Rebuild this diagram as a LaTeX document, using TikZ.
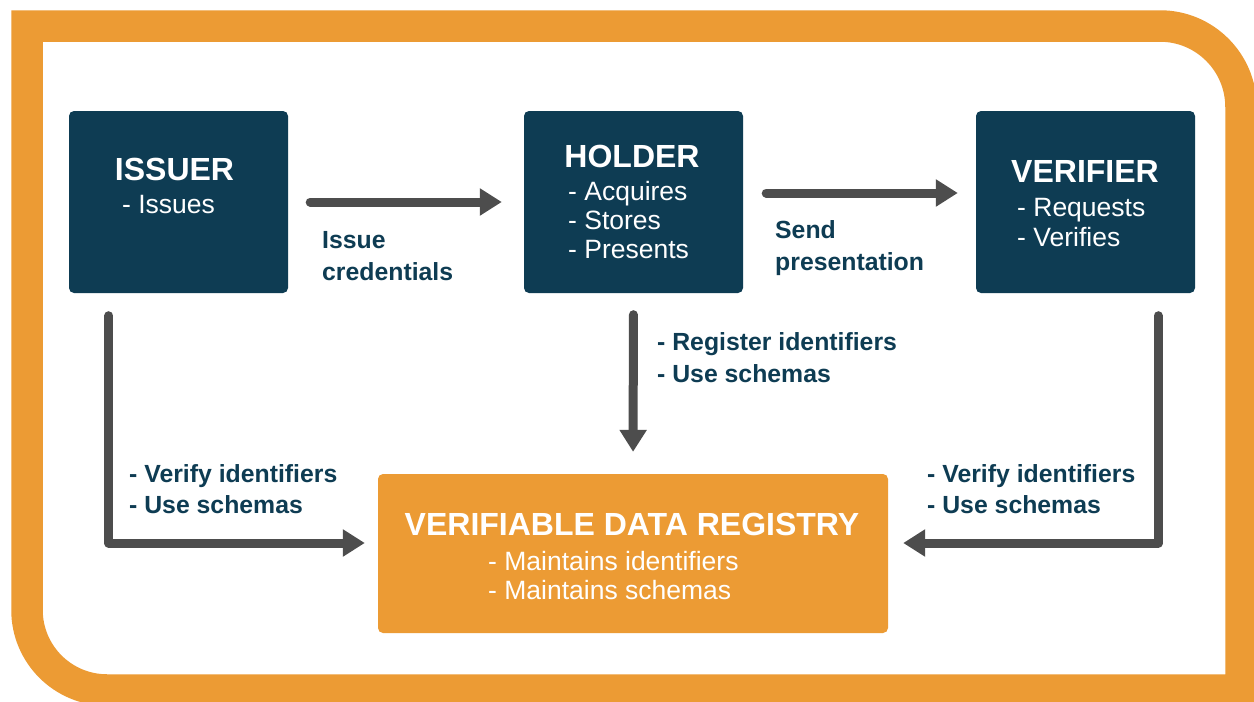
\documentclass[tikz,border=0pt]{standalone}
\usepackage{fontspec}
\setmainfont{Liberation Sans}
\usetikzlibrary{arrows.meta}
\definecolor{navy}{HTML}{0E3C53}
\definecolor{amber}{HTML}{EC9B34}
\definecolor{arrowgray}{HTML}{4D4D4D}
\begin{document}
\begin{tikzpicture}[x=1pt,y=-1pt,
  rolebox/.style={fill=navy, rounded corners=5pt, inner sep=0pt, minimum width=219pt, minimum height=182pt},
  regbox/.style={fill=amber, rounded corners=5pt, inner sep=0pt, minimum width=510pt, minimum height=159pt},
  titletext/.style={font=\fontsize{32}{36}\selectfont\bfseries, text=white, inner sep=0pt, anchor=base},
  itemtext/.style={font=\fontsize{26.5}{30}\selectfont, text=white, inner sep=0pt, anchor=base west},
  labeltext/.style={font=\fontsize{24.8}{30}\selectfont\bfseries, text=navy, inner sep=0pt, anchor=base west},
  conn/.style={draw=arrowgray, line width=9pt, line cap=round, line join=round, -{Triangle[length=22pt,width=26pt]}},
  frame/.style={draw=amber, line width=31.5pt, line join=miter}]
\useasboundingbox (0,0) rectangle (1254,702);
\fill[white] (0,0) rectangle (1254,702);
% frame
\draw[frame] (27,610) -- (27,26) -- (1160,26) arc[start angle=-90,end angle=0,radius=81]
  -- (1241,690) -- (107,690) arc[start angle=90,end angle=180,radius=80] -- cycle;
% boxes
\node[rolebox] (issuer) at (178.5,202) {};
\node[rolebox] (holder) at (633.5,202) {};
\node[rolebox] (verifier) at (1085.5,202) {};
\node[regbox] (vdr) at (633,553.5) {};
% box texts
\node[titletext] (issuerT) at (174.5,180) {ISSUER};
\node[itemtext] (issuerA) at (122,213) {- Issues};
\node[titletext] (holderT) at (632,167) {HOLDER};
\node[itemtext] (holderA) at (568,200) {- Acquires};
\node[itemtext] (holderB) at (568,229) {- Stores};
\node[itemtext] (holderC) at (568,258) {- Presents};
\node[titletext] (verifierT) at (1085,182) {VERIFIER};
\node[itemtext] (verifierA) at (1017,216) {- Requests};
\node[itemtext] (verifierB) at (1017,246) {- Verifies};
\node[titletext] (vdrT) at (632,535) {VERIFIABLE DATA REGISTRY};
\node[itemtext] (vdrA) at (488,570) {- Maintains identifiers};
\node[itemtext] (vdrB) at (488,599) {- Maintains schemas};
% connectors
\draw[conn, shorten <=22pt, shorten >=22pt] (issuer.east) -- (holder.west);
\draw[conn, shorten <=23pt, shorten >=18pt] ([yshift=9pt]holder.east) -- ([yshift=9pt]verifier.west);
\draw[conn, shorten <=21.5pt, shorten >=22pt] (holder.south) -- (vdr.north);
\draw[conn, shorten <=22.5pt, shorten >=13pt] ([xshift=40pt]issuer.south west) |- ([yshift=10.5pt]vdr.west);
\draw[conn, shorten <=22.5pt, shorten >=15pt] ([xshift=-37pt]verifier.south east) |- ([yshift=10.5pt]vdr.east);
% connector labels
\node[labeltext] (l1a) at (322,248) {Issue};
\node[labeltext] (l1b) at (322,280) {credentials};
\node[labeltext] (l2a) at (775,238) {Send};
\node[labeltext] (l2b) at (775,270) {presentation};
\node[labeltext] (l3a) at (657,350) {- Register identifiers};
\node[labeltext] (l3b) at (657,382) {- Use schemas};
\node[labeltext] (l4a) at (129,482) {- Verify identifiers};
\node[labeltext] (l4b) at (129,513) {- Use schemas};
\node[labeltext] (l5a) at (927,482) {- Verify identifiers};
\node[labeltext] (l5b) at (927,513) {- Use schemas};
\end{tikzpicture}
\end{document}
